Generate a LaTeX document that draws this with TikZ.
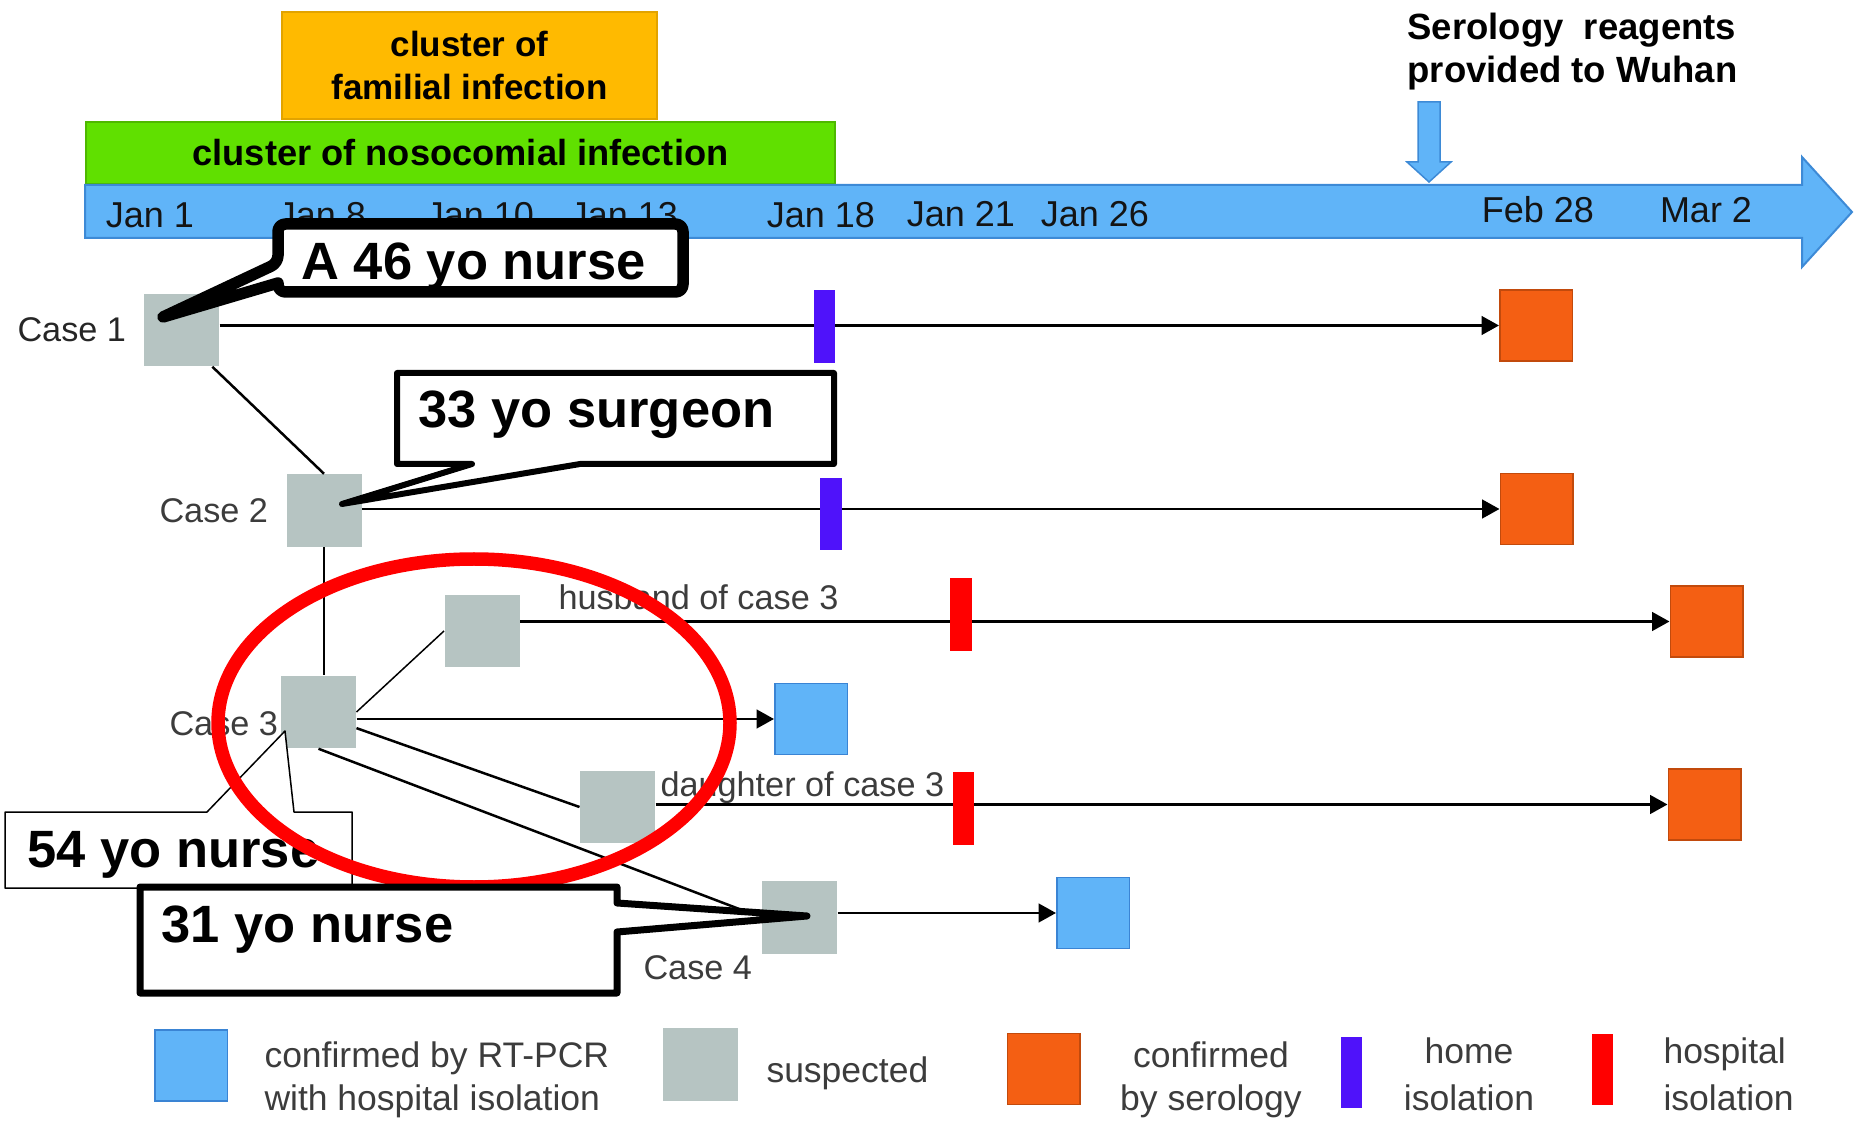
\documentclass[tikz,border=0pt]{standalone}
\usepackage{fontspec}
\setmainfont{Liberation Sans}
\usetikzlibrary{arrows.meta}

\definecolor{famorange}{RGB}{255,186,0}
\definecolor{famdark}{RGB}{226,163,0}
\definecolor{nosogreen}{RGB}{96,224,0}
\definecolor{nosodark}{RGB}{78,184,0}
\definecolor{timeblue}{RGB}{96,180,248}
\definecolor{timedark}{RGB}{61,138,214}
\definecolor{suspgray}{RGB}{182,196,194}
\definecolor{seroorange}{RGB}{244,95,19}
\definecolor{serodark}{RGB}{194,74,12}
\definecolor{pcrblue}{RGB}{96,180,248}
\definecolor{pcrdark}{RGB}{58,132,212}
\definecolor{homepurple}{RGB}{79,18,250}
\definecolor{hospred}{RGB}{255,0,0}
\definecolor{labelgray}{RGB}{60,60,60}
\definecolor{datetext}{RGB}{20,20,20}

\begin{document}
\begin{tikzpicture}[x=0.4pt,y=0.4pt,yscale=-1,xscale=1,
  susp/.style={fill=suspgray,inner sep=0pt,minimum width=30pt,minimum height=29pt},
  sero/.style={fill=seroorange,draw=serodark,line width=0.6pt,inner sep=0pt,minimum width=29pt,minimum height=28.5pt},
  pcr/.style={fill=pcrblue,draw=pcrdark,line width=0.6pt,inner sep=0pt,minimum width=29pt,minimum height=28.5pt},
  homebar/.style={fill=homepurple,inner sep=0pt,minimum width=8.6pt,minimum height=29pt},
  hospbar/.style={fill=hospred,inner sep=0pt,minimum width=8.6pt,minimum height=29pt},
  datelbl/.style={anchor=base,inner sep=0pt,text=datetext,font=\fontsize{14.4}{17}\selectfont},
  graylbl/.style={anchor=base west,inner sep=0pt,text=labelgray,font=\fontsize{14.2}{17}\selectfont},
  caselbl/.style={graylbl,font=\fontsize{13.7}{16}\selectfont},
  headlbl/.style={anchor=base west,inner sep=0pt,font=\bfseries\fontsize{14.6}{17}\selectfont},
  bigtxt/.style={anchor=base west,inner sep=0pt,font=\bfseries\fontsize{21}{25}\selectfont},
  arr/.style={line width=1pt,-{Triangle[length=7pt,width=7.5pt]}},
  link/.style={line width=1pt},
  callout/.style={fill=white,draw=black,line join=round}]
  \useasboundingbox (0,0) rectangle (1854,1124);

  %Shape: Rectangle [familial cluster]
  \node[fill=famorange,draw=famdark,line width=0.6pt,minimum width=150pt,minimum height=42.8pt,inner sep=0pt,align=center,font=\bfseries\fontsize{14}{17.2}\selectfont] (fam) at (469.5,65.5) {cluster of\\familial infection};
  %Shape: Rectangle [nosocomial cluster]
  \node[fill=nosogreen,draw=nosodark,line width=0.6pt,minimum width=299.6pt,minimum height=24.8pt,inner sep=0pt,font=\bfseries\fontsize{14.5}{17}\selectfont] (noso) at (460.5,153) {cluster of nosocomial infection};

  %Shape: Right Arrow [time line]
  \draw[fill=timeblue,draw=timedark,line width=0.8pt] (85,185) -- (1802,185) -- (1802,157) -- (1852,212) -- (1802,267) -- (1802,238) -- (85,238) -- cycle;
  %Shape: Down Arrow
  \draw[fill=timeblue,draw=timedark,line width=0.6pt] (1418,102) -- (1440,102) -- (1440,162) -- (1451,162) -- (1429,182) -- (1407,162) -- (1418,162) -- cycle;

  % Text Node
  \node[datelbl] (jan1) at (150,228) {Jan 1};
  \node[datelbl] (jan8) at (322,228) {Jan 8};
  \node[datelbl] (jan10) at (480,228) {Jan 10};
  \node[datelbl] (jan13) at (624,228) {Jan 13};
  \node[datelbl] (jan18) at (821,228) {Jan 18};
  \node[datelbl] (jan21) at (961,227) {Jan 21};
  \node[datelbl] (jan26) at (1095,227) {Jan 26};
  \node[datelbl] (feb28) at (1538,223) {Feb 28};
  \node[datelbl] (mar2) at (1706,223) {Mar 2};
  % Text Node
  \node[headlbl] (ser1) at (1407,40) {Serology\ \ reagents};
  \node[headlbl] (ser2) at (1407,83) {provided to Wuhan};

  %Shape: Square [cases]
  \node[susp] (c1) at (181.5,330) {};
  \node[susp] (c2) at (324,510.5) {};
  \node[susp] (hus) at (482,631) {};
  \node[susp] (c3) at (318.5,712) {};
  \node[susp] (dau) at (617.5,807) {};
  \node[susp] (c4) at (799.5,917.5) {};
  %Shape: Square [results]
  \node[sero] (s1) at (1536,325.5) {};
  \node[sero] (s2) at (1536.5,509) {};
  \node[sero] (s3) at (1706.5,621.5) {};
  \node[sero] (s4) at (1704.5,804.5) {};
  \node[pcr] (p3) at (811,719) {};
  \node[pcr] (p4) at (1093,913) {};

  %Straight Lines
  \draw[link] (c1.-50) -- (c2.north);
  \draw[link] (c2.south) -- (c2.south |- c3.north);
  \draw[line width=0.6pt] (c3.east) -- (hus.west);
  \draw[link] (c3.-23) -- (dau.west);
  \draw[link] (c3.south) -- (c4.west);
  \draw[arr] (c1.east |- s1.west) -- (s1.west);
  \draw[arr] (c2.east |- s2.west) -- (s2.west);
  \draw[arr] (hus.east |- s3.west) -- (s3.west);
  \draw[arr] (c3.east |- p3.west) -- (p3.west);
  \draw[arr] (dau.east |- s4.west) -- (s4.west);
  \draw[arr] (c4.east |- p4.west) -- (p4.west);

  % Text Node
  \node[caselbl,text=black!85] (l1) at (17,342) {Case 1};
  \node[caselbl] (l2) at (159,523) {Case 2};
  \node[caselbl] (l3) at (169,735) {Case 3};
  \node[caselbl] (l4) at (643,979) {Case 4};
  \node[caselbl] (lhus) at (558,610) {husband of case 3};
  \node[caselbl] (ldau) at (660,796) {daughter of case 3};

  %Shape: Bar [isolation]
  \node[homebar] (h1) at (824.5,326.5) {};
  \node[homebar] (h2) at (831,514) {};
  \node[hospbar] (r3) at (961,614.5) {};
  \node[hospbar] (r4) at (963.5,808.5) {};

  %Shape: Callout [case 1]
  \draw[callout,line width=4.6pt] (278,263) -- (163,317) -- (278,283) [rounded corners=3pt] -- (278,292) -- (683,292) -- (683,224) -- (278,224) -- cycle;
  \node[bigtxt] (t1) at (301,280) {A 46 yo nurse};
  %Shape: Callout [case 2]
  \draw[callout,line width=2.4pt] (472,464) -- (342,504) -- (580,464) -- (834,464) -- (834,373) -- (397,373) -- (397,464) -- cycle;
  \node[bigtxt] (t2) at (418,428) {33 yo surgeon};
  %Shape: Callout [case 3]
  \draw[callout,line width=0.6pt] (207,812) -- (285,731) -- (294,812) -- (352,812) -- (352,888) -- (5,888) -- (5,812) -- cycle;
  \node[bigtxt] (t3) at (27,867) {54 yo nurse};

  %Shape: Ellipse
  \draw[hospred,line width=5.4pt] (474,723) ellipse [x radius=256, y radius=164];

  %Shape: Callout [case 4]
  \draw[callout,line width=2.8pt] (617,903) -- (807,916) -- (617,932) -- (617,993) -- (140,993) -- (140,887) -- (617,887) -- cycle;
  \node[bigtxt] (t4) at (161,942) {31 yo nurse};

  %Legend
  \node[pcr] (kpcr) at (191,1065.5) {};
  \node[graylbl] (kpcr1) at (264,1067) {confirmed by RT-PCR};
  \node[graylbl] (kpcr2) at (264,1110) {with hospital isolation};
  \node[susp] (ksusp) at (700.5,1064.5) {};
  \node[graylbl] (ksusp1) at (766,1082) {suspected};
  \node[sero] (ksero) at (1043.5,1069) {};
  \node[graylbl,anchor=base] (ksero1) at (1211,1067) {confirmed};
  \node[graylbl,anchor=base] (ksero2) at (1211,1110) {by serology};
  \node[homebar,minimum width=8.4pt,minimum height=28.4pt] (khome) at (1351.5,1072.5) {};
  \node[graylbl,anchor=base] (khome1) at (1469,1063) {home};
  \node[graylbl,anchor=base] (khome2) at (1469,1110) {isolation};
  \node[hospbar,minimum width=8.4pt,minimum height=28.4pt] (khosp) at (1602.5,1069) {};
  \node[graylbl] (khosp1) at (1663,1063) {hospital};
  \node[graylbl] (khosp2) at (1663,1110) {isolation};

\end{tikzpicture}
\end{document}
